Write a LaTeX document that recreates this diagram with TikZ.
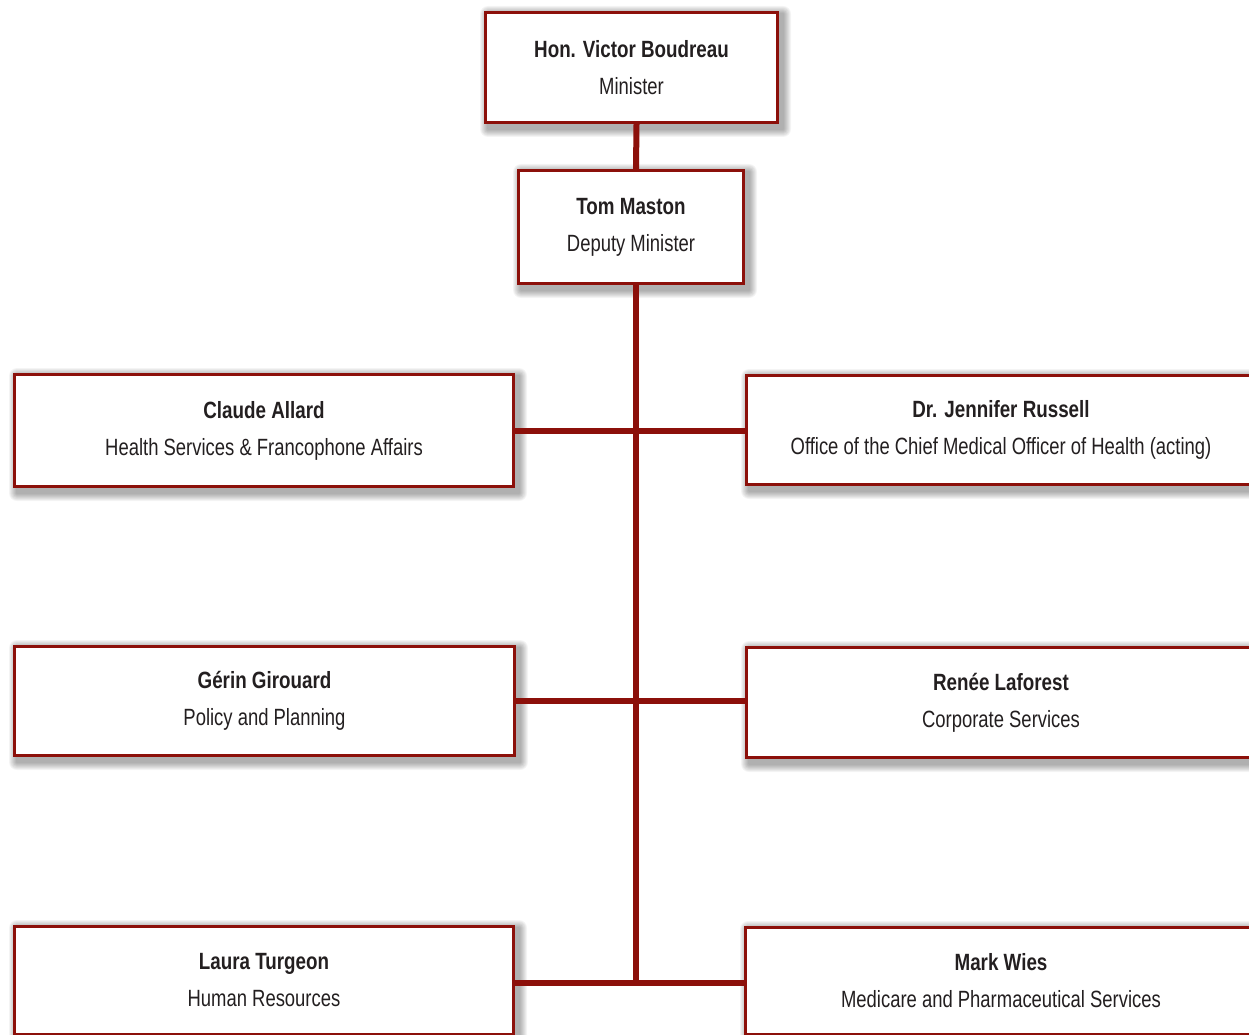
\documentclass[tikz,border=0pt]{standalone}
\usepackage{fontspec}
\setmainfont{Liberation Sans}[FakeStretch=0.785,BoldFeatures={FakeStretch=0.8}]
\usetikzlibrary{backgrounds}
\definecolor{bord}{RGB}{140,16,10}
\definecolor{ink}{RGB}{35,31,32}
\tikzset{
  orgbox/.style={draw=bord, line width=3pt, fill=white, rectangle, inner sep=0pt,
    align=center, text=ink, font=\fontsize{23.5}{37}\selectfont},
  link/.style={draw=bord, line width=6pt},
  shadowpiece/.style={fill=black, opacity=0.045, draw=none}
}
\newcommand{\nm}[1]{\textbf{#1}}
\newcommand{\softshadow}[1]{%
  \begin{pgfonlayer}{background}
  \foreach \e in {1,...,8}{
    \fill[shadowpiece, rounded corners=\e pt]
      ([shift={(4-\e,3-\e)}]#1.north west) rectangle ([shift={(4+\e,5+\e)}]#1.south east);
  }
  \end{pgfonlayer}}
\begin{document}
\begin{tikzpicture}[x=1pt,y=-1pt]
\useasboundingbox (0,0) rectangle (1249,1035);
\begin{pgfonlayer}{background}
\fill[white] (0,0) rectangle (1249,1035);
\end{pgfonlayer}
\node[orgbox, minimum width=292pt, minimum height=110pt] (min) at (631.5,67.5) {\nm{Hon. Victor Boudreau}\\Minister};
\node[orgbox, minimum width=225pt, minimum height=113pt] (dep) at (631,227) {\nm{Tom Maston}\\Deputy Minister};
\node[orgbox, minimum width=499pt, minimum height=112pt] (claude) at (264,430.5) {\nm{Claude Allard}\\Health Services \& Francophone Affairs};
\node[orgbox, minimum width=509pt, minimum height=109pt] (jen) at (1001,430) {\nm{Dr. Jennifer Russell}\\Office of the Chief Medical Officer of Health (acting)};
\node[orgbox, minimum width=500pt, minimum height=109pt] (gerin) at (264.5,701) {\nm{Gérin Girouard}\\Policy and Planning};
\node[orgbox, minimum width=509pt, minimum height=110pt] (renee) at (1001,702.5) {\nm{Renée Laforest}\\Corporate Services};
\node[orgbox, minimum width=499pt, minimum height=108pt] (laura) at (264,980.5) {\nm{Laura Turgeon}\\Human Resources};
\node[orgbox, minimum width=511pt, minimum height=107pt] (mark) at (1001,981) {\nm{Mark Wies}\\Medicare and Pharmaceutical Services};
\softshadow{min}\softshadow{dep}\softshadow{claude}\softshadow{jen}
\softshadow{gerin}\softshadow{renee}\softshadow{laura}\softshadow{mark}
\coordinate (t) at (636,983);
\draw[link] ([xshift=5pt]min.south) -- ([xshift=5pt]dep.north);
\draw[link] ([xshift=5pt]dep.south) -- (t);
\draw[link] (claude.east) -- (claude.east -| jen.west);
\draw[link] (gerin.east) -- (gerin.east -| renee.west);
\draw[link] ([yshift=-2pt]laura.east) -- ([yshift=-2pt]laura.east -| mark.west);
\end{tikzpicture}
\end{document}
